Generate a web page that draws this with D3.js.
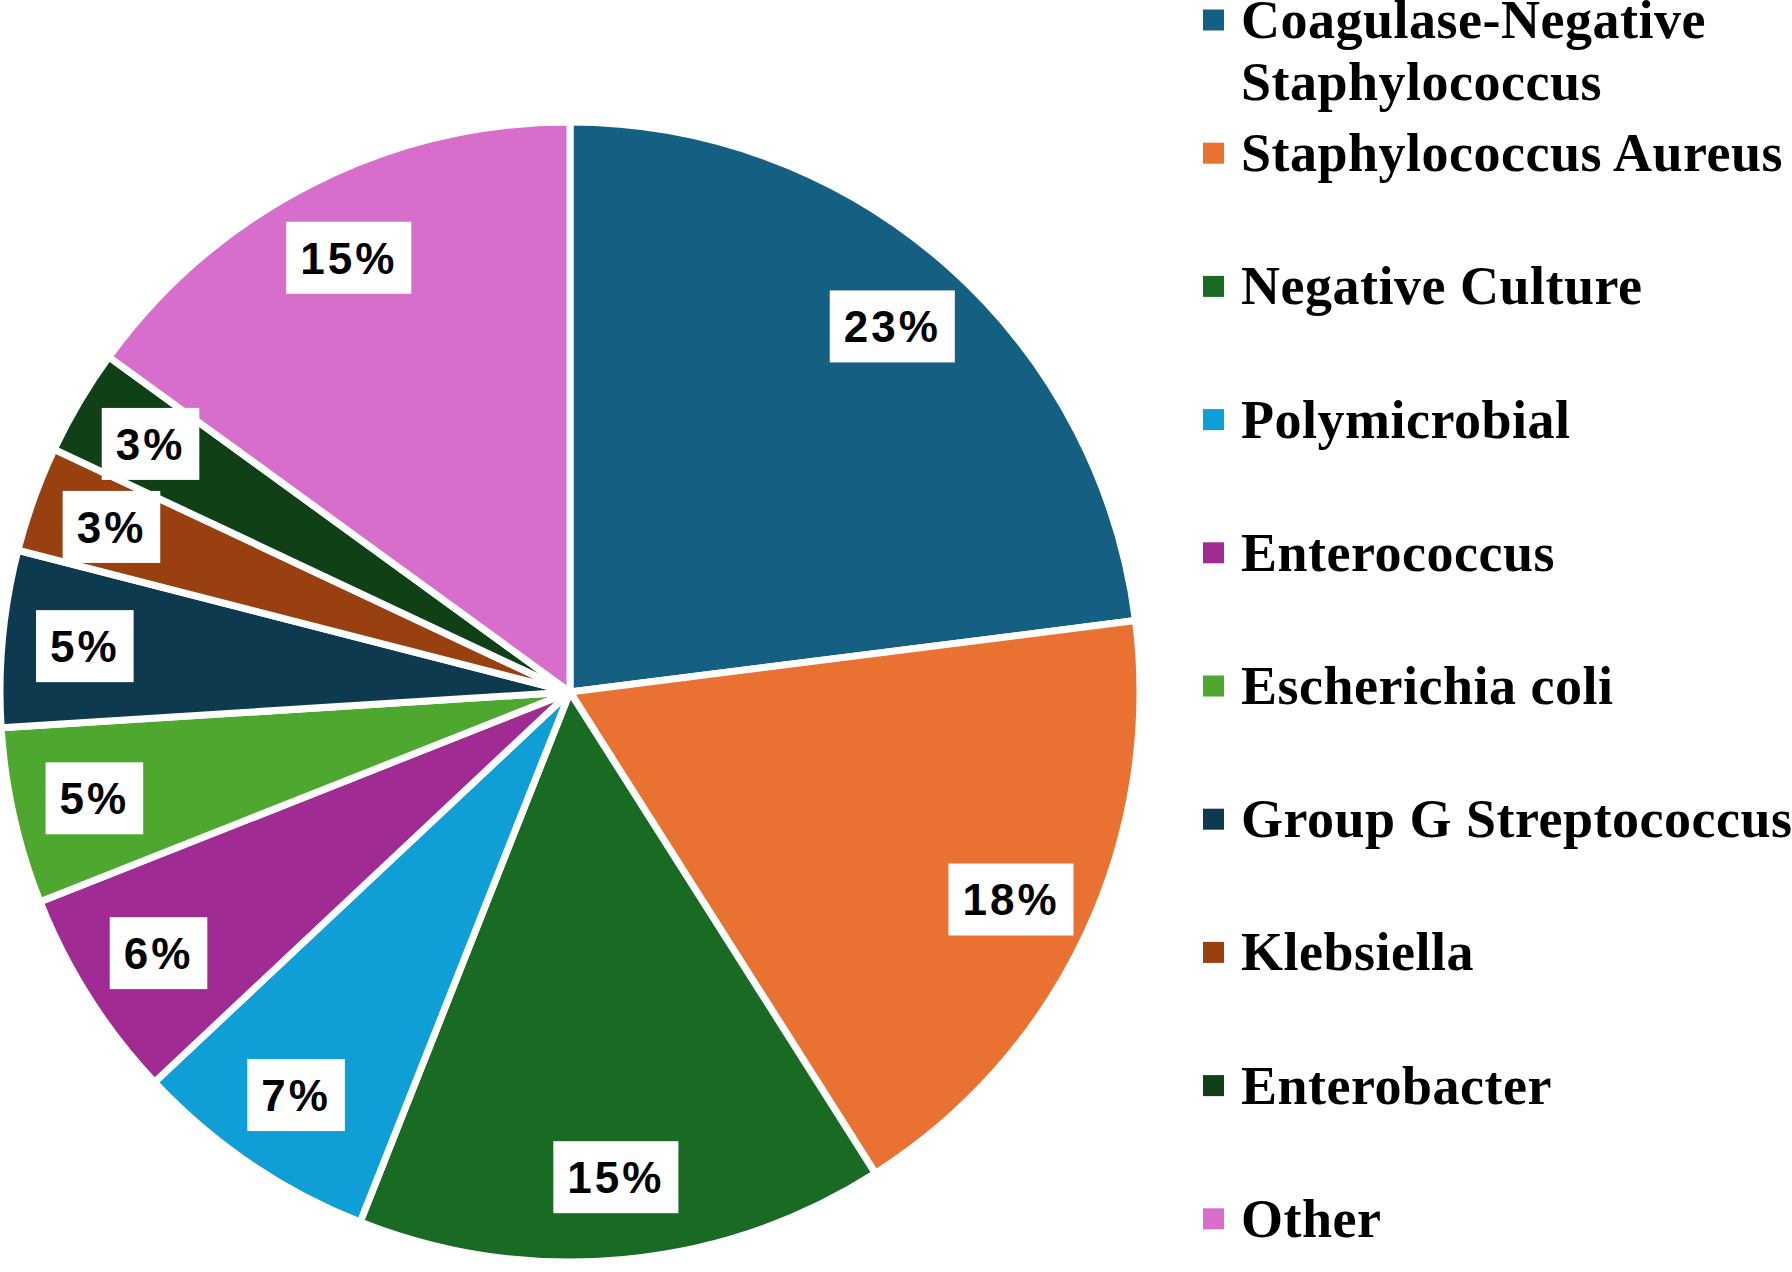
<!DOCTYPE html>
<html>
<head>
<meta charset="utf-8">
<script src="https://cdn.jsdelivr.net/npm/d3@7/dist/d3.min.js"></script>
<style>
  html, body { margin: 0; padding: 0; background: #ffffff; }
  svg { display: block; }
</style>
</head>
<body>
<svg id="chart" width="1792" height="1272"></svg>
<script>
// ---- data ----
const categories = [
  "Coagulase-Negative Staphylococcus",
  "Staphylococcus Aureus",
  "Negative Culture",
  "Polymicrobial",
  "Enterococcus",
  "Escherichia coli",
  "Group G Streptococcus",
  "Klebsiella",
  "Enterobacter",
  "Other"
];
const percents = [23, 18, 15, 7, 6, 5, 5, 3, 3, 15];
const colors = [
  "#156082", "#e97132", "#196b24", "#0f9ed5", "#a02b93",
  "#4ea72e", "#0d3a4e", "#994011", "#0f4016", "#d86ecc"
];

// ---- layout ----
const W = 1792, H = 1272;
const cx = 570, cy = 692, R = 570;
const labelR = 0.855 * R;

const svg = d3.select("#chart");
const data = categories.map((c, i) => ({ name: c, value: percents[i], color: colors[i] }));

const pie = d3.pie().value(d => d.value).sort(null).startAngle(0).endAngle(2 * Math.PI);
const arcs = pie(data);
const arc = d3.arc().innerRadius(0).outerRadius(R);
const labelArc = d3.arc().innerRadius(labelR).outerRadius(labelR);

const g = svg.append("g").attr("transform", `translate(${cx},${cy})`);

g.selectAll("path.slice")
  .data(arcs)
  .join("path")
  .attr("class", "slice")
  .attr("d", arc)
  .attr("fill", d => d.data.color)
  .attr("stroke", "#ffffff")
  .attr("stroke-width", 7)
  .attr("stroke-linejoin", "round");

// data labels
const lab = g.selectAll("g.lab")
  .data(arcs)
  .join("g")
  .attr("class", "lab")
  .attr("transform", d => `translate(${labelArc.centroid(d)})`);

lab.append("rect").attr("fill", "#ffffff");
lab.append("text")
  .attr("text-anchor", "middle")
  .attr("dy", "0.36em")
  .attr("font-family", "Liberation Sans, Arial, sans-serif")
  .attr("font-weight", "bold")
  .attr("font-size", 44)
  .attr("letter-spacing", 3)
  .attr("fill", "#000000")
  .text(d => d3.format(".0%")(d.data.value / 100));

lab.each(function () {
  const t = d3.select(this).select("text").node();
  const bb = t.getBBox();
  const padX = 14, boxH = 72;
  d3.select(this).select("rect")
    .attr("x", bb.x - padX)
    .attr("y", -boxH / 2)
    .attr("width", bb.width + 2 * padX)
    .attr("height", boxH);
});

// legend
const legX = 1203, legTextX = 1241, legTop = 20, legStep = 133.2, sq = 21;
const legendFont = 54, lineH = 62;
const leg = svg.append("g");
const maxW = W - legTextX + 20;

data.forEach((d, i) => {
  const y = legTop + i * legStep;
  leg.append("rect")
    .attr("x", legX).attr("y", y - sq / 2)
    .attr("width", sq).attr("height", sq)
    .attr("fill", d.color);
  const t = leg.append("text")
    .attr("x", legTextX).attr("y", y + 18)
    .attr("font-family", "Liberation Serif, Times New Roman, serif")
    .attr("font-weight", "bold")
    .attr("font-size", legendFont)
    .attr("letter-spacing", 0.5)
    .attr("fill", "#000000");
  // word wrap
  const words = d.name.split(" ");
  let line = [];
  let tspan = t.append("tspan").attr("x", legTextX).attr("dy", 0);
  words.forEach(w => {
    line.push(w);
    tspan.text(line.join(" "));
    if (tspan.node().getComputedTextLength() > maxW && line.length > 1) {
      line.pop();
      tspan.text(line.join(" "));
      line = [w];
      tspan = t.append("tspan").attr("x", legTextX).attr("dy", lineH).text(w);
    }
  });
});
</script>
</body>
</html>
